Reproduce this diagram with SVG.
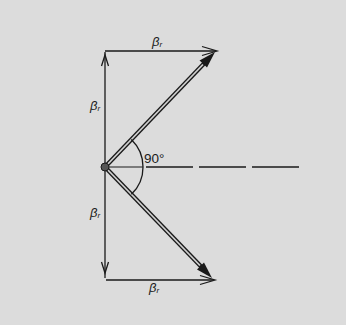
<svg xmlns="http://www.w3.org/2000/svg" width="346" height="325" viewBox="0 0 346 325">
<style>
.ln{stroke:#1a1a1a;stroke-width:1.3;fill:none}
.oh{stroke:#1a1a1a;stroke-width:1.3;fill:none;stroke-linejoin:miter}
.dbo{stroke:#1a1a1a;stroke-width:4.4;fill:none}
.dbi{stroke:#cfcfcf;stroke-width:1.8;fill:none}
.lbl{font-family:"Liberation Sans",Arial,sans-serif;font-style:italic;font-size:13px;fill:#1a1a1a}
.sub{font-size:8px}
.deg{font-family:"Liberation Sans",Arial,sans-serif;font-size:13.5px;fill:#1a1a1a}
</style>
<rect x="0" y="0" width="346" height="325" fill="#dcdcdc"/>
<g id="connectors">
  <line class="ln" x1="105" y1="52" x2="105" y2="278"/>
  <path class="oh" d="M101.5,66 L105,55 L108.5,66"/>
  <path class="oh" d="M101.5,262 L105,273 L108.5,262"/>
  <line class="ln" x1="105" y1="51" x2="216" y2="51"/>
  <path class="oh" d="M202,46.5 L217,51 L202,55.5"/>
  <line class="ln" x1="106" y1="280" x2="214" y2="280"/>
  <path class="oh" d="M200,275.5 L215,280 L200,284.5"/>
  <line class="dbo" x1="105" y1="167" x2="205" y2="62.5"/>
  <line class="dbi" x1="105" y1="167" x2="203" y2="64.5"/>
  <path d="M215,52 L199.5,60.5 L203.5,64 L207,67.5 Z" fill="#1a1a1a"/>
  <line class="dbo" x1="105" y1="167" x2="202" y2="267.5"/>
  <line class="dbi" x1="105" y1="167" x2="200" y2="265.5"/>
  <path d="M212,278 L204,262.5 L200.5,266 L197,269.5 Z" fill="#1a1a1a"/>
  <path class="ln" d="M131.3,139.5 A38,38 0 0 1 131.4,194.3"/>
  <line x1="105" y1="167" x2="143" y2="167" stroke="#1a1a1a" stroke-width="1"/>
  <line x1="146" y1="167" x2="300" y2="167" stroke="#1a1a1a" stroke-width="1.3" stroke-dasharray="47,6"/>
</g>
<g id="origin">
  <circle cx="105" cy="167" r="4" fill="#555" stroke="#1a1a1a" stroke-width="1"/>
</g>
<g id="labels">
  <text class="lbl" x="152" y="46">β<tspan class="sub" dy="1">r</tspan></text>
  <text class="lbl" x="90" y="110">β<tspan class="sub" dy="1">r</tspan></text>
  <text class="lbl" x="90" y="217">β<tspan class="sub" dy="1">r</tspan></text>
  <text class="lbl" x="149" y="292">β<tspan class="sub" dy="1">r</tspan></text>
  <text class="deg" x="144" y="163">90°</text>
</g>
</svg>
